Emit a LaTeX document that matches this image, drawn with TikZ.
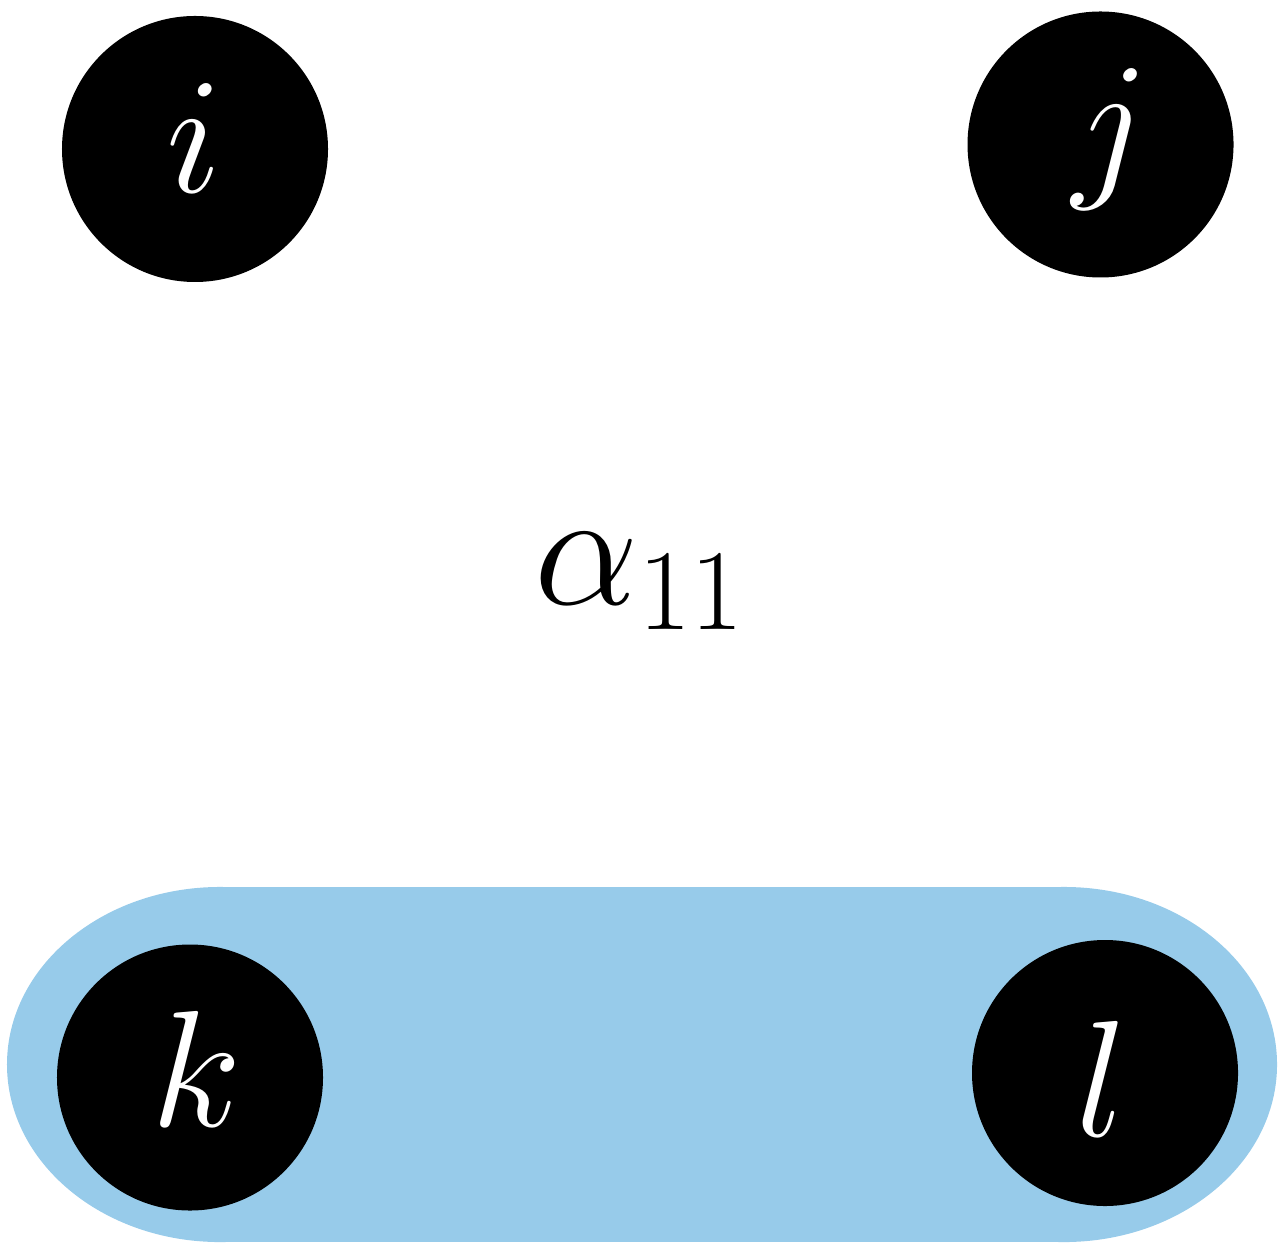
\documentclass[tikz,border=0pt]{standalone}
\DeclareMathSizes{24}{24}{18.5}{12}
\definecolor{pillblue}{RGB}{151,203,234}
\begin{document}
\begin{tikzpicture}[x=0.15pt,y=-0.15pt,
  vertex/.style={circle,fill=black,draw=none,inner sep=0pt,minimum size=39.9pt},
  letter/.style={text=white,inner sep=0pt,anchor=base,font=\fontsize{24}{28}\selectfont},
  lab/.style={text=black,inner sep=0pt,anchor=base,font=\fontsize{24}{28}\selectfont}]
\useasboundingbox (0,0) rectangle (1284,1249);
% blue group around k and l
\fill[pillblue] (220,1064.5) ellipse [x radius=31.95pt, y radius=26.63pt];
\fill[pillblue] (1064,1064.5) ellipse [x radius=31.95pt, y radius=26.63pt];
\fill[pillblue] (220,887) rectangle (1064,1242);
% vertices
\node[vertex] (i) at (195,149) {};
\node[vertex] (j) at (1100.5,144.5) {};
\node[vertex] (k) at (190,1077.5) {};
\node[vertex] (l) at (1105,1073) {};
% labels
\node[letter] (ti) at (194,193) {$i$};
\node[letter] (tj) at (1111,178) {$j$};
\node[letter] (tk) at (197,1126) {$k$};
\node[letter] (tl) at (1101,1136) {$l$};
\node[lab] (alpha) at (641,605) {$\alpha_{11}$};
\end{tikzpicture}
\end{document}
